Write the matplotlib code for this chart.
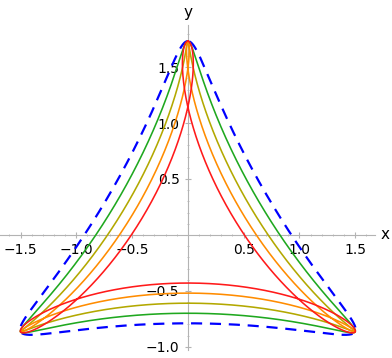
import numpy as np
import matplotlib.pyplot as plt

# curve parameters: outer radius at the vertices and
# the depth of each curve on the negative y axis
R = np.sqrt(3)
depth = [0.79, 0.70, 0.61, 0.52, 0.43]
colors = ['#0000ff', '#1fa81f', '#b3a800', '#ff8c00', '#ff1a1a']
styles = ['--', '-', '-', '-', '-']

xticks = [-1.5, -1.0, -0.5, 0.5, 1.0, 1.5]
yticks = [-1.0, -0.5, 0.5, 1.0, 1.5]

fig = plt.figure(figsize=(3.92, 3.58), dpi=100)
ax = fig.add_axes([0, 0, 1, 1])

t = np.linspace(0, 2 * np.pi, 1200)
for d, c, ls in zip(depth, colors, styles):
    b = (R - d) / 2
    a = R - b
    z = 1j * (a * np.exp(1j * t) + b * np.exp(-2j * t))
    if ls == '--':
        ax.plot(z.real, z.imag, color=c, lw=1.6, ls=(0, (5, 3.5)), zorder=3)
    else:
        ax.plot(z.real, z.imag, color=c, lw=1.15, zorder=3)

ax.set_xlim(-1.684, 1.83)
ax.set_ylim(-1.10, 2.10)
ax.set_aspect('equal', adjustable='datalim')

axcol = '#b3b3b3'
for s in ['top', 'right']:
    ax.spines[s].set_visible(False)
ax.spines['left'].set_position(('data', 0))
ax.spines['bottom'].set_position(('data', 0))
ax.spines['left'].set_bounds(-1.03, 1.88)
ax.spines['bottom'].set_bounds(-1.684, 1.677)
ax.spines['left'].set_color(axcol)
ax.spines['bottom'].set_color(axcol)
ax.spines['left'].set_linewidth(0.8)
ax.spines['bottom'].set_linewidth(0.8)

ax.set_xticks(xticks)
ax.set_xticklabels(['\u2212' + f'{abs(v):.1f}' if v < 0 else f'{v:.1f}' for v in xticks])
ax.set_yticks(yticks)
ax.set_yticklabels(['\u2212' + f'{abs(v):.1f}' if v < 0 else f'{v:.1f}' for v in yticks])
ax.set_xticks(np.arange(-1.6, 1.65, 0.1), minor=True)
ax.set_yticks(np.arange(-1.0, 1.85, 0.1), minor=True)
ax.tick_params(which='major', direction='in', length=4, color=axcol, width=0.8,
               labelsize=10, pad=4)
ax.tick_params(which='minor', direction='in', length=2, color=axcol, width=0.6)
ax.tick_params(axis='x', which='both', direction='inout')
ax.tick_params(axis='y', which='both', direction='inout')

ax.text(1.765, 0, 'x', fontsize=11, ha='center', va='center')
ax.text(0, 1.99, 'y', fontsize=11, ha='center', va='center')

fig.savefig('out.png', dpi=100)
